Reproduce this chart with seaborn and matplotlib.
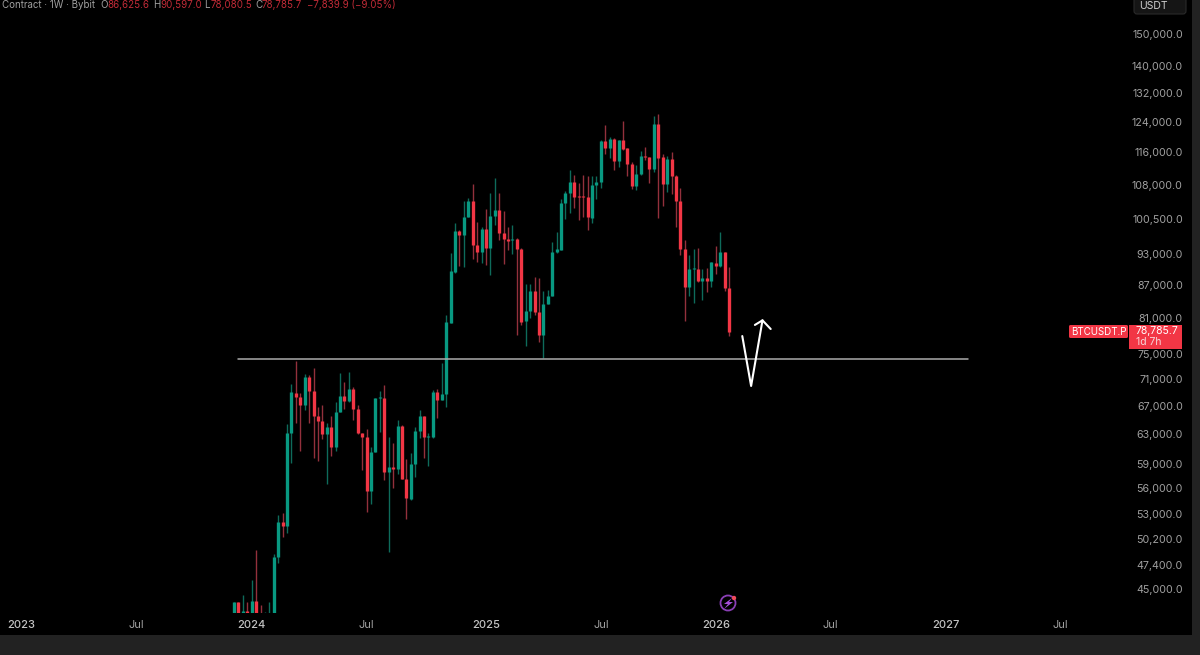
import numpy as np
import pandas as pd
import matplotlib
matplotlib.use('Agg')
import matplotlib.pyplot as plt
import matplotlib.dates as mdates
import seaborn as sns
from matplotlib.patches import Circle, FancyBboxPatch, Polygon, Rectangle
from matplotlib.ticker import NullLocator

# weekly candles, BTCUSDT.P
opens = [40000, 43780, 41500, 42940, 41990, 43880, 41500, 41320, 41830, 41920, 48200, 52080, 51630, 63080, 68900, 68300,
         67080, 71230, 69200, 65500, 64840, 62940, 63910, 61280, 66120, 68400, 67660, 69500, 66450, 63080, 62530, 55700,
         60620, 68060, 68060, 58050, 58600, 58340, 64090, 57090, 54670, 59020, 63450, 65500, 62630, 62630, 68950, 67810,
         68700, 80190, 89580, 97840, 96990, 100930, 104420, 94910, 93410, 98190, 94230, 101070, 102400, 97340, 96150, 95950,
         96080, 94020, 80540, 82310, 85900, 82130, 78080, 83510, 84970, 93550, 93890, 103890, 106320, 108730, 105550, 105550,
         105250, 100560, 108100, 108890, 118930, 117050, 119450, 113880, 119100, 117050, 113220, 107870, 110790, 115120, 114960, 111840,
         123310, 114790, 108340, 114380, 110310, 104420, 94020, 86580, 90100, 90160, 87840, 88420, 87780, 91210, 90680, 93550, 86520]
highs = [43780, 43780, 44420, 43780, 45890, 48980, 43470, 42840, 43780, 48550, 52840, 53030, 64370, 70200, 73850, 68800,
         71740, 71590, 72630, 66740, 67080, 64460, 65500, 67570, 71950, 70560, 72110, 69800, 67080, 63170, 63680, 61190,
         68150, 69200, 70050, 62530, 61820, 64930, 64230, 59620, 60400, 64000, 66350, 65500, 63080, 69300, 69400, 73530,
         81540, 93210, 99480, 98050, 104490, 105020, 108340, 99840, 98620, 102550, 106170, 109680, 106170, 102250, 98620, 99120,
         96290, 94230, 87210, 87210, 88610, 88290, 85960, 86080, 95600, 97550, 104790, 106780, 111680, 110470, 108490, 110470,
         110230, 110230, 110310, 119190, 123130, 120050, 119620, 119190, 124290, 117050, 113550, 112900, 116380, 117480, 114960, 125560,
         126010, 115540, 115210, 116040, 110470, 107320, 95950, 92870, 94020, 94230, 90100, 90360, 91540, 94630, 97700, 93550, 90420]
lows = [39710, 41170, 40880, 41470, 41470, 40580, 39430, 39430, 41170, 41470, 47650, 50410, 50850, 59110, 64460, 60710,
        66350, 64460, 59750, 59450, 62260, 56470, 60050, 60710, 66020, 66450, 67570, 64930, 62990, 58260, 53220, 54120,
        60530, 63310, 57010, 48800, 55990, 57710, 57090, 52380, 54590, 57420, 62400, 59750, 58760, 62400, 65170, 67810,
        66790, 80190, 89380, 90680, 90420, 100780, 92000, 91540, 91340, 90870, 88930, 99120, 95950, 91010, 93890, 93080,
        78080, 79790, 76290, 80950, 81540, 76960, 74220, 83510, 84970, 93210, 93890, 100340, 101660, 102920, 100200, 100930,
        98050, 99480, 104790, 107320, 115540, 114500, 111680, 112490, 116630, 110310, 107170, 106940, 110470, 114130, 108490, 111280,
        100710, 103290, 106400, 105940, 98760, 92870, 80490, 85030, 83630, 87650, 84240, 85770, 86580, 89120, 90550, 85890, 77970]
closes = [43780, 41500, 42940, 41990, 43880, 41500, 41320, 41770, 42380, 48270, 52080, 51630, 63080, 68950, 68300, 67080,
          71230, 69200, 65500, 64840, 62940, 63910, 61280, 66120, 68400, 67660, 69500, 66450, 63080, 62530, 55700, 60620,
          68060, 68200, 58050, 58600, 58340, 64090, 57090, 54780, 59020, 63450, 65500, 62630, 62760, 68950, 67810, 68650,
          80310, 89770, 97840, 96990, 100930, 104420, 94910, 93410, 98190, 94230, 101070, 102400, 97340, 96150, 95810, 96080,
          94020, 80370, 82310, 85900, 82130, 78080, 83510, 84970, 93550, 94090, 104040, 106320, 108730, 105400, 105400, 105250,
          100780, 108100, 108890, 118930, 117050, 119360, 113880, 119190, 116880, 113140, 107870, 110790, 115120, 114870, 111840, 123310,
          114710, 108340, 114380, 110310, 104420, 94020, 86580, 90160, 90230, 87840, 88420, 87840, 91410, 90680, 93550, 86400, 78530]
weeks = pd.date_range('2023-12-04', periods=len(opens), freq='7D')

price_ticks = [150000, 140000, 132000, 124000, 116000, 108000, 100500, 93000, 87000, 81000,
               75000, 71000, 67000, 63000, 59000, 56000, 53000, 50200, 47400, 45000]
time_ticks = ['2023-01-01', '2023-07-03', '2024-01-01', '2024-07-01', '2025-01-06', '2025-07-07',
              '2026-01-05', '2026-07-06', '2027-01-04', '2027-07-05']
time_labels = ['2023', 'Jul', '2024', 'Jul', '2025', 'Jul', '2026', 'Jul', '2027', 'Jul']

# hand drawn level and arrow
level_dates = ['2023-12-10', '2027-02-08']
level_prices = [74190, 74190]
arrow_dates = ['2026-02-16', '2026-03-02', '2026-03-20']
arrow_prices = [77900, 69900, 80600]
head_dates = ['2026-03-08', '2026-03-20', '2026-04-02']
head_prices = [79800, 80600, 79100]

RED = '#f23645'
GREEN = '#089981'
RED_WICK = '#93303c'
GREEN_WICK = '#0e6b5b'
GREY = '#a0a0a0'
FONT = 'Inter'

sns.set_theme(style='dark')
plt.rcParams['font.family'] = [FONT, 'DejaVu Sans']

candles = pd.DataFrame({'week': weeks, 'open': opens, 'high': highs, 'low': lows, 'close': closes})
candles['side'] = np.where(candles['close'] >= candles['open'], 'up', 'down')
wicks = candles.melt(id_vars=['week', 'side'], value_vars=['high', 'low'], value_name='price')
bodies = candles.melt(id_vars=['week', 'side'], value_vars=['open', 'close'], value_name='price')

fig = plt.figure(figsize=(12, 6.55), dpi=100, facecolor='black')
ax = fig.add_axes([0, 1 - 613 / 655, 1130 / 1200, 613 / 655], facecolor='black')

sns.lineplot(data=wicks, x='week', y='price', hue='side', units='week', estimator=None, legend=False,
             palette={'up': GREEN_WICK, 'down': RED_WICK}, linewidth=1.0, solid_capstyle='butt', ax=ax)
sns.lineplot(data=bodies, x='week', y='price', hue='side', units='week', estimator=None, legend=False,
             palette={'up': GREEN, 'down': RED}, linewidth=2.4, solid_capstyle='butt', ax=ax)
sns.lineplot(x=pd.to_datetime(level_dates), y=level_prices, color='#aaaaaa', linewidth=1.1, ax=ax)
sns.lineplot(x=pd.to_datetime(arrow_dates), y=arrow_prices, sort=False, estimator=None, color='white', linewidth=1.5, ax=ax)
sns.lineplot(x=pd.to_datetime(head_dates), y=head_prices, sort=False, estimator=None, color='white', linewidth=1.5, ax=ax)

ax.set_yscale('log')
ax.set_ylim(150000 * np.exp(-579 / 461), 150000 * np.exp(34 / 461))
first_week = mdates.date2num(weeks[0])
ax.set_xlim(first_week - 234 / 0.6314, first_week + 896 / 0.6314)
ax.set_xlabel('')
ax.set_ylabel('')
ax.grid(False)
for side in ax.spines.values():
    side.set_visible(False)

ax.yaxis.tick_right()
ax.set_yticks(price_ticks)
ax.set_yticklabels([f'{v:,.1f}' for v in price_ticks])
ax.yaxis.set_minor_locator(NullLocator())
ax.tick_params(axis='y', which='both', length=0, pad=38, labelsize=7.7, labelcolor=GREY)
for label in ax.get_yticklabels():
    label.set_ha('right')

ax.set_xticks(pd.to_datetime(time_ticks))
ax.set_xticklabels(time_labels)
ax.tick_params(axis='x', which='both', length=0, pad=5, labelsize=8, labelcolor=GREY)
for label in ax.get_xticklabels():
    if label.get_text() != 'Jul':
        label.set_fontweight('medium')
        label.set_color('#c4c4c4')


def px(x, y):
    return x / 1200, 1 - y / 655


# app chrome
fig.add_artist(Rectangle(px(0, 655), 1, 20 / 655, transform=fig.transFigure, color='#222222', lw=0))
fig.add_artist(Rectangle(px(1192, 635), 8 / 1200, 635 / 655, transform=fig.transFigure, color='#222222', lw=0))
fig.add_artist(FancyBboxPatch((1134, 655 - 14), 52, 20, boxstyle='round,pad=0,rounding_size=3', transform=None,
                              facecolor='#151515', edgecolor='#2a2a2a', lw=0.8, clip_on=True))
fig.text(*px(1139, 6), 'USDT', color='#cfcfcf', fontsize=7.5, va='center', ha='left')

# legend row along the top edge
legend_bits = [(2, 'Contract · 1W · Bybit', GREY), (100, 'O', GREY), (107, '86,625.6', RED), (153, 'H', GREY),
               (160, '90,597.0', RED), (204, 'L', GREY), (211, '78,080.5', RED), (255, 'C', GREY),
               (262, '78,785.7', RED), (307, '−7,839.9 (−9.05%)', RED)]
for x, text, colour in legend_bits:
    fig.text(*px(x, 5), text, color=colour, alpha=0.8 if colour == RED else 1, fontsize=7, va='center', ha='left')

# last price tag
fig.add_artist(FancyBboxPatch((1069, 655 - 338), 59, 13, boxstyle='round,pad=0,rounding_size=1.5', transform=None,
                              facecolor=RED, edgecolor='none'))
fig.add_artist(Rectangle((1129, 655 - 349), 53, 24, transform=None, facecolor=RED, edgecolor='none'))
fig.text(*px(1098.5, 331.5), 'BTCUSDT.P', color='white', fontsize=7, va='center', ha='center')
fig.text(*px(1136, 331), '78,785.7', color='white', fontsize=7.5, va='center', ha='left')
fig.text(*px(1136, 342), '1d 7h', color='#f7d5d8', fontsize=7.5, va='center', ha='left')

# bolt badge near the time axis
fig.add_artist(Circle((728, 655 - 603), 7.5, transform=None, facecolor='none', edgecolor='#8a3fb5', lw=1.3))
fig.add_artist(Polygon([(732, 655 - 598), (724, 655 - 604), (728, 655 - 604), (724, 655 - 609), (733, 655 - 602), (729, 655 - 602)],
                       transform=None, facecolor='#a64fd8', edgecolor='none'))
fig.add_artist(Circle((734, 655 - 598), 2.2, transform=None, facecolor='#ef4a5a', edgecolor='none'))

fig.savefig('out.png', dpi=100, facecolor='black')
